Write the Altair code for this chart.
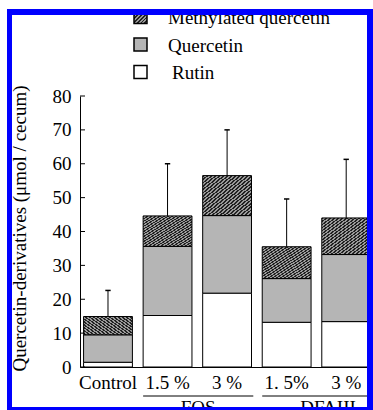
import altair as alt
import pandas as pd

# ---------------- data ----------------
categories = ["Control", "FOS 1.5 %", "FOS 3 %", "DFAIII 1.5%", "DFAIII 3 %"]
tick_labels = ["Control", "1.5 %", "3 %", "1. 5%", "3 %"]
rutin = [1.4, 15.2, 21.8, 13.2, 13.4]
quercetin = [8.1, 20.4, 22.9, 12.9, 19.8]
methylated = [5.4, 9.0, 11.8, 9.4, 10.8]
error_top = [22.6, 60.0, 70.0, 49.6, 61.3]
groups = ["FOS", "DFAIII"]
group_members = [[1, 2], [3, 4]]
components = ["Rutin", "Quercetin", "Methylated quercetin"]
legend_order = ["Methylated quercetin", "Quercetin", "Rutin"]
y_ticks = [0, 10, 20, 30, 40, 50, 60, 70, 80]
y_title = "Quercetin-derivatives (\u03bcmol / cecum)"

# ---------------- layout constants ----------------
W, H = 293, 271
PAD_L, PAD_T = 80, 96
FONT = "Liberation Serif"
HALF = 0.41
BLUE = "#0000ff"

def stripes(n, dark, light, frac, x1, y1, x2, y2):
    stops = []
    for k in range(n):
        a, b, c = k / n, (k + frac) / n, (k + 1) / n
        stops += [alt.GradientStop(offset=a, color=dark),
                  alt.GradientStop(offset=b, color=dark),
                  alt.GradientStop(offset=b, color=light),
                  alt.GradientStop(offset=c, color=light)]
    return alt.LinearGradient(gradient="linear", stops=stops, x1=x1, y1=y1, x2=x2, y2=y2)

hatch_bar = stripes(24, "#222222", "#9a9a9a", 0.5, 0, 0, 1, 1)
hatch_leg = stripes(7, "#222222", "#9a9a9a", 0.5, 0, 0, 1, 1)
quer_fill = "#b5b5b5"
fills_bar = {"Rutin": "white", "Quercetin": quer_fill, "Methylated quercetin": hatch_bar}
fills_leg = {"Rutin": "white", "Quercetin": quer_fill, "Methylated quercetin": hatch_leg}

# stacked segments
rows = []
series = {"Rutin": rutin, "Quercetin": quercetin, "Methylated quercetin": methylated}
for i, cat in enumerate(categories):
    base = 0.0
    for comp in components:
        v = series[comp][i]
        rows.append({"cat": cat, "idx": i, "x0": i - HALF, "x1": i + HALF,
                     "comp": comp, "y0": base, "y1": base + v})
        base += v
seg = pd.DataFrame(rows)

tot = pd.DataFrame({"cat": categories, "idx": list(range(len(categories))),
                    "total": [r + q + m for r, q, m in zip(rutin, quercetin, methylated)],
                    "err": error_top, "label": tick_labels})
tot["c0"] = tot["idx"] - 0.045
tot["c1"] = tot["idx"] + 0.045

grows = []
for g, mem in zip(groups, group_members):
    start = mem[0] - HALF
    end = mem[-1] + HALF + (0.03 if g == "FOS" else 0.39)
    grows.append({"group": g, "g0": start, "g1": end, "gm": (start + end) / 2})
grp = pd.DataFrame(grows)

xscale = alt.Scale(domain=[-0.47, 4.45], nice=False, zero=False)
yscale = alt.Scale(domain=[0, 80], nice=False, zero=True)

x_axis = alt.Axis(labels=False, ticks=False, title=None, grid=False,
                  domain=True, domainColor="black", domainWidth=1, tickCount=0)
y_axis = alt.Axis(values=y_ticks, ticks=False, labelPadding=9, labelFont=FONT,
                  labelFontSize=19, labelColor="black", domain=True,
                  domainColor="black", domainWidth=1,
                  grid=False, title=y_title, titleFont=FONT, titleFontSize=19,
                  titleFontWeight="normal", titleColor="black",
                  titleX=-61, titleY=132, titleAngle=270, titleAlign="center",
                  titleBaseline="middle")

def X(f):
    return alt.X(f, scale=xscale, axis=x_axis)

def Y(f):
    return alt.Y(f, scale=yscale, axis=y_axis)

layers = []
# bars
for comp in components:
    d = seg[seg["comp"] == comp]
    layers.append(alt.Chart(d).mark_bar(fill=fills_bar[comp], stroke="black",
                                        strokeWidth=1).encode(
        x=X("x0:Q"), x2="x1:Q", y=Y("y0:Q"), y2="y1:Q"))

# error bars
layers.append(alt.Chart(tot).mark_rule(color="black", strokeWidth=1).encode(
    x=X("idx:Q"), y=Y("total:Q"), y2="err:Q"))
layers.append(alt.Chart(tot).mark_rule(color="black", strokeWidth=1.5).encode(
    x=X("c0:Q"), x2="c1:Q", y=Y("err:Q")))

# inward y ticks
ticks_df = pd.DataFrame({"t": y_ticks})
layers.append(alt.Chart(ticks_df).mark_rule(color="black").encode(
    y=Y("t:Q"), x=alt.value(0), x2=alt.value(5)))

# category labels
layers.append(alt.Chart(tot).mark_text(font=FONT, fontSize=19, color="black",
                                       baseline="middle", align="center").encode(
    x=X("idx:Q"), y=alt.value(H + 16), text="label:N"))

# group underlines and labels
layers.append(alt.Chart(grp).mark_rule(color="black", strokeWidth=1).encode(
    x=X("g0:Q"), x2="g1:Q", y=alt.value(H + 29)))
layers.append(alt.Chart(grp).mark_text(font=FONT, fontSize=19, color="black",
                                       baseline="top", align="center").encode(
    x=X("gm:Q"), y=alt.value(H + 32), text="group:N"))

# manual legend
one = pd.DataFrame({"a": [0]})
for k, comp in enumerate(legend_order):
    cy = -79 + 27.5 * k
    layers.append(alt.Chart(one).mark_rect(fill=fills_leg[comp], stroke="black",
                                           strokeWidth=1.5).encode(
        x=alt.value(54), x2=alt.value(67), y=alt.value(cy - 6.5), y2=alt.value(cy + 6.5)))
    layers.append(alt.Chart(one).mark_text(font=FONT, fontSize=19, color="black",
                                           align="left", baseline="middle",
                                           text=comp).encode(
        x=alt.value(88 if comp != "Rutin" else 92), y=alt.value(cy + 1)))

# blue frame of the scan
frame = [(-73, 293, -87, -81), (-73, -68, -87, 314), (287, 293, -87, 314), (-73, 293, 311, 314)]
for (a, b, c, d) in frame:
    layers.append(alt.Chart(one).mark_rect(fill=BLUE).encode(
        x=alt.value(a), x2=alt.value(b), y=alt.value(c), y2=alt.value(d)))

chart = alt.layer(*layers).properties(
    width=W, height=H,
    autosize=alt.AutoSizeParams(type="none"),
    padding={"left": PAD_L, "top": PAD_T, "right": 0, "bottom": 410 - PAD_T - H},
    background="white",
).configure_view(stroke=None, clip=False)

chart.save("out.html", embed_options={"renderer": "svg", "actions": False})
